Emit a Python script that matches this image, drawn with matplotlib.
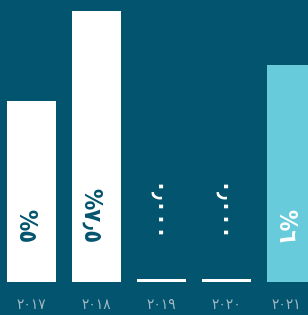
import matplotlib
matplotlib.use("Agg")
import matplotlib.pyplot as plt

# data
years = ["٢٠١٧", "٢٠١٨", "٢٠١٩", "٢٠٢٠", "٢٠٢١"]
values = [5.0, 7.5, 0.08, 0.08, 6.0]
value_labels = ["%٥", "%٧٫٥", "٠٫٠٠٠", "٠٫٠٠٠", "%٦"]

bg = "#03546e"
bar_colors = ["#ffffff", "#ffffff", "#ffffff", "#ffffff", "#67cbdb"]
label_colors = [bg, bg, "#ffffff", "#ffffff", "#ffffff"]

fig = plt.figure(figsize=(3.08, 3.15), dpi=100, facecolor=bg)
ax = fig.add_axes([0, 33 / 315, 1, 282 / 315])
ax.set_facecolor(bg)

x = list(range(len(years)))
ax.bar(x, values, width=0.754, color=bar_colors, zorder=2)

# value labels, rotated, sitting near the bottom of each bar
for i, (lab, col) in enumerate(zip(value_labels, label_colors)):
    ax.text(i - 0.2, 1.08, lab, rotation=-90, rotation_mode="anchor",
            ha="right", va="baseline", color=col, fontsize=17,
            fontweight="bold", fontstretch="condensed",
            family="DejaVu Sans", zorder=3)

# year labels under the bars
for i, yr in enumerate(years):
    xi = i if i < len(years) - 1 else i - 0.085
    ax.text(xi, -0.62, yr, ha="center", va="center", color="#a2b9c5",
            fontsize=11, fontstretch="condensed",
            family="DejaVu Sans", clip_on=False)

ax.set_xlim(-0.485, 4.254)
ax.set_ylim(0, 282 / 36.2)
ax.axis("off")

fig.savefig("out.png", dpi=100, facecolor=bg)
